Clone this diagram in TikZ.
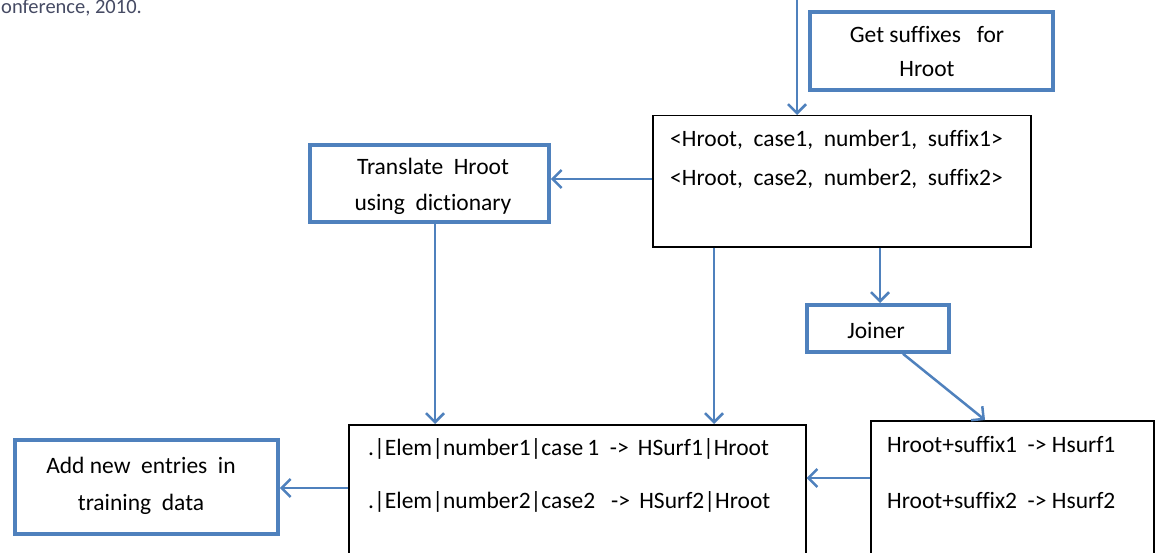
\documentclass[tikz,border=0pt]{standalone}
\usepackage{fontspec}
\setmainfont{Carlito}[Ligatures=NoCommon]
\usetikzlibrary{arrows.meta}
\definecolor{obl}{RGB}{79,129,189}
\definecolor{cite}{RGB}{70,75,100}
\tikzset{
  bluebox/.style={draw=obl, line width=3.8pt, fill=white, inner sep=0pt},
  blackbox/.style={draw=black, line width=1.5pt, fill=white, inner sep=0pt},
  txt/.style={font=\fontsize{23.5}{28}\selectfont, inner sep=0pt, anchor=base west},
  ctxt/.style={font=\fontsize{23.5}{28}\selectfont, inner sep=0pt, anchor=base},
  flow/.style={draw=obl, line width=2.5pt, -{Straight Barb[length=9pt,width=18pt,line width=2.5pt]}},
}
\begin{document}
\begin{tikzpicture}[x=1pt,y=-1pt]
\useasboundingbox[fill=white] (0,0) rectangle (1155,553);
% citation fragment
\node[font=\fontsize{20.5}{22}\selectfont, text=cite, anchor=base west, inner sep=0pt] (cit) at (1,14) {onference, 2010.};
% boxes
\node[bluebox, minimum width=243pt, minimum height=78pt, anchor=north west] (get) at (808,10) {};
\node[blackbox, minimum width=378pt, minimum height=131pt, anchor=north west] (tup) at (652,115) {};
\node[bluebox, minimum width=239pt, minimum height=77pt, anchor=north west] (tr) at (308,143) {};
\node[bluebox, minimum width=142pt, minimum height=47pt, anchor=north west] (join) at (805,303) {};
\node[blackbox, minimum width=457pt, minimum height=140pt, anchor=north west] (ent) at (348,424) {};
\node[blackbox, minimum width=283pt, minimum height=140pt, anchor=north west] (hs) at (870,420) {};
\node[bluebox, minimum width=263pt, minimum height=94pt, anchor=north west] (add) at (13,438) {};
% texts
\node[ctxt] (get1) at (927,43) {Get suffixes\ \ \ for};
\node[ctxt] (get2) at (927,77) {Hroot};
\node[txt] (tup1) at (670,147) {<Hroot,\ \ case1,\ \ number1,\ \ suffix1>};
\node[txt] (tup2) at (670,186) {<Hroot,\ \ case2,\ \ number2,\ \ suffix2>};
\node[ctxt] (tr1) at (433,175) {Translate\ \ Hroot};
\node[ctxt] (tr2) at (433,211) {using\ \ dictionary};
\node[ctxt] (join1) at (876,338) {Joiner};
\node[txt] (hs1) at (887,452) {Hroot+suffix1\ \ -> Hsurf1};
\node[txt] (hs2) at (887,508) {Hroot+suffix2\ \ -> Hsurf2};
\node[txt] (ent1) at (368,455) {.|Elem|number1|case\,1\ \ ->\ \,HSurf1|Hroot};
\node[txt] (ent2) at (368,508) {.|Elem|number2|case2\ \ \ ->\ \,HSurf2|Hroot};
\node[ctxt] (add1) at (141,473) {Add new\ \ entries\ \ in};
\node[ctxt] (add2) at (141,510) {training\ \ data};
% connectors
\coordinate (topin) at (797,0);
\draw[flow] (topin) -- (topin |- tup.north);
\draw[flow] (tup.west |- 0,179) -- (tr.east |- 0,179);
\draw[flow] (tr.south -| 435,0) -- (ent.north -| 435,0);
\draw[flow] (tup.south -| 714,0) -- (ent.north -| 714,0);
\draw[flow] (tup.south -| 880,0) -- (join.north -| 880,0);
\draw[flow] (join.south -| 903,0) -- (hs.north -| 985,0);
\draw[flow] (hs.west |- 0,478) -- (ent.east |- 0,478);
\draw[flow] (ent.west |- 0,488) -- (add.east |- 0,488);
\end{tikzpicture}
\end{document}
